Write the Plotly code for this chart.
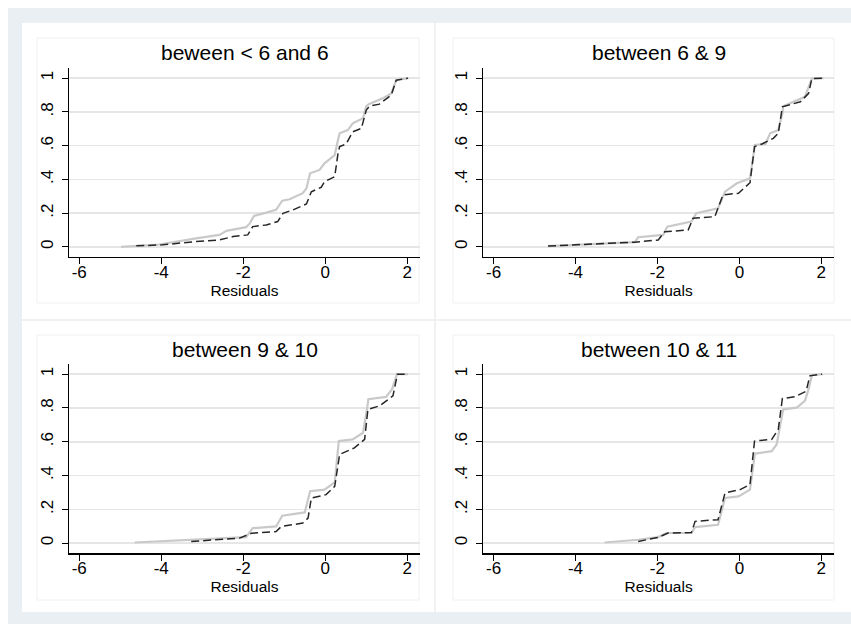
import plotly.graph_objects as go

# ---------------- data ----------------
titles = ["beween < 6 and 6", "between 6 & 9", "between 9 & 10", "between 10 & 11"]
x_tick_vals = [-6, -4, -2, 0, 2]
x_tick_text = ["-6", "-4", "-2", "0", "2"]
y_tick_vals = [0, 0.2, 0.4, 0.6, 0.8, 1]
y_tick_text = ["0", ".2", ".4", ".6", ".8", "1"]
x_title = "Residuals"

# panel 1: gray solid / black dashed
p1_gray_x = [-4.98, -4.05, -3.15, -2.58, -2.41, -1.93, -1.85, -1.74, -1.44, -1.20, -1.05, -0.87, -0.55, -0.46,
             -0.37, -0.14, -0.02, 0.23, 0.31, 0.35, 0.55, 0.67, 0.92, 1.00, 1.06, 1.40, 1.61, 1.73, 2.02]
p1_gray_y = [0.00, 0.014, 0.05, 0.071, 0.095, 0.117, 0.136, 0.183, 0.203, 0.219, 0.274, 0.282, 0.318, 0.347,
             0.436, 0.456, 0.495, 0.544, 0.633, 0.673, 0.692, 0.732, 0.762, 0.834, 0.846, 0.88, 0.909, 0.988, 1.0]
p1_dash_x = [-4.61, -3.96, -3.23, -2.58, -2.25, -1.89, -1.77, -1.44, -1.16, -1.03, -0.79, -0.46, -0.34, -0.10,
             -0.02, 0.23, 0.31, 0.35, 0.51, 0.67, 0.88, 1.00, 1.08, 1.32, 1.61, 1.73, 2.02]
p1_dash_y = [0.006, 0.012, 0.03, 0.041, 0.061, 0.071, 0.12, 0.13, 0.15, 0.199, 0.219, 0.254, 0.327, 0.353,
             0.386, 0.416, 0.554, 0.594, 0.61, 0.682, 0.702, 0.811, 0.834, 0.846, 0.90, 0.988, 1.0]

# panel 2
p2_gray_x = [-4.67, -2.55, -2.47, -1.86, -1.76, -1.17, -1.05, -0.52, -0.35, -0.06, 0.26, 0.38, 0.64, 0.75,
             0.95, 1.05, 1.07, 1.60, 1.77, 2.05]
p2_gray_y = [0.005, 0.028, 0.057, 0.071, 0.12, 0.15, 0.20, 0.229, 0.327, 0.377, 0.406, 0.604, 0.61, 0.673,
             0.692, 0.79, 0.834, 0.889, 0.998, 1.0]
p2_dash_x = [-4.67, -2.55, -1.98, -1.82, -1.25, -1.13, -0.60, -0.40, -0.02, 0.26, 0.37, 0.55, 0.83, 0.95,
             1.05, 1.49, 1.69, 1.77, 2.05]
p2_dash_y = [0.005, 0.028, 0.041, 0.09, 0.10, 0.17, 0.179, 0.308, 0.318, 0.38, 0.594, 0.61, 0.643, 0.673,
             0.83, 0.86, 0.91, 0.998, 1.0]

# panel 3
p3_gray_x = [-4.65, -1.93, -1.77, -1.20, -1.05, -0.50, -0.37, -0.02, 0.23, 0.33, 0.67, 0.92, 1.02, 1.05,
             1.48, 1.63, 1.75, 2.02]
p3_gray_y = [0.004, 0.036, 0.089, 0.099, 0.162, 0.182, 0.307, 0.317, 0.36, 0.604, 0.614, 0.653, 0.796, 0.852,
             0.865, 0.911, 1.0, 1.0]
p3_dash_x = [-3.27, -2.09, -1.80, -1.20, -1.07, -0.55, -0.42, -0.34, 0.02, 0.23, 0.35, 0.71, 0.96, 1.04,
             1.32, 1.65, 1.76, 2.02]
p3_dash_y = [0.01, 0.03, 0.059, 0.069, 0.099, 0.119, 0.148, 0.267, 0.287, 0.336, 0.525, 0.564, 0.614, 0.792,
             0.812, 0.871, 1.0, 1.0]

# panel 4
p4_gray_x = [-3.29, -2.47, -1.98, -1.78, -1.17, -1.08, -0.52, -0.35, -0.02, 0.26, 0.38, 0.79, 0.91, 1.07,
             1.40, 1.60, 1.69, 1.77, 2.02]
p4_gray_y = [0.004, 0.02, 0.036, 0.06, 0.06, 0.095, 0.109, 0.267, 0.277, 0.317, 0.53, 0.544, 0.584, 0.792,
             0.802, 0.842, 0.911, 0.994, 1.0]
p4_dash_x = [-2.47, -1.98, -1.74, -1.17, -1.08, -0.52, -0.35, 0.02, 0.26, 0.37, 0.79, 0.95, 1.05, 1.35,
             1.63, 1.72, 2.02]
p4_dash_y = [0.01, 0.034, 0.06, 0.063, 0.129, 0.139, 0.297, 0.317, 0.347, 0.604, 0.614, 0.673, 0.856, 0.866,
             0.899, 0.99, 1.0]

gray_series = [(p1_gray_x, p1_gray_y), (p2_gray_x, p2_gray_y), (p3_gray_x, p3_gray_y), (p4_gray_x, p4_gray_y)]
dash_series = [(p1_dash_x, p1_dash_y), (p2_dash_x, p2_dash_y), (p3_dash_x, p3_dash_y), (p4_dash_x, p4_dash_y)]

# ---------------- layout geometry (pixels) ----------------
W, H = 851, 624
FONT = "Liberation Sans, Arial, Helvetica, sans-serif"


def px_x(p):
    return p / W


def px_y(p):
    return 1 - p / H


plot_x = [(69, 420), (483.3, 834), (69, 420), (483.3, 834)]
plot_y = [(68, 257), (68, 257), (364, 553.3), (364, 553.3)]
boxes = [(37, 38, 419, 303), (453, 38, 834, 303), (37, 335, 419, 600), (453, 335, 834, 600)]
title_y = [52, 52, 349.5, 349.5]

fig = go.Figure()

for i in range(4):
    sfx = "" if i == 0 else str(i + 1)
    gx, gy = gray_series[i]
    dxs, dys = dash_series[i]
    fig.add_trace(go.Scatter(x=gx, y=gy, mode="lines", xaxis="x" + sfx, yaxis="y" + sfx,
                             line=dict(color="#c9c9c9", width=2.2), showlegend=False, hoverinfo="skip"))
    fig.add_trace(go.Scatter(x=dxs, y=dys, mode="lines", xaxis="x" + sfx, yaxis="y" + sfx,
                             line=dict(color="#262626", width=1.5, dash="8px,4px"), showlegend=False,
                             hoverinfo="skip"))

layout = dict(
    width=W, height=H, autosize=False,
    margin=dict(l=0, r=0, t=0, b=0, pad=0),
    paper_bgcolor="white", plot_bgcolor="rgba(0,0,0,0)",
    font=dict(family=FONT, color="black"),
    shapes=[], annotations=[],
)

for i in range(4):
    sfx = "" if i == 0 else str(i + 1)
    x0, x1 = plot_x[i]
    ytop, ybot = plot_y[i]
    layout["xaxis" + sfx] = dict(
        domain=[px_x(x0), px_x(x1)], anchor="y" + sfx, range=[-6.25, 2.31],
        tickmode="array", tickvals=x_tick_vals, ticktext=x_tick_text,
        showline=True, linecolor="black", linewidth=1.3,
        ticks="outside", ticklen=6, tickwidth=1, tickcolor="black",
        showgrid=False, zeroline=False, ticklabelstandoff=-7,
        tickfont=dict(family=FONT, size=17, color="black"),
        title=dict(text=x_title, font=dict(family=FONT, size=15.5, color="black"), standoff=2),
        fixedrange=True,
    )
    layout["yaxis" + sfx] = dict(
        domain=[px_y(ybot), px_y(ytop)], anchor="x" + sfx, range=[-0.06, 1.06],
        tickmode="array", tickvals=y_tick_vals, ticktext=y_tick_text, tickangle=-90,
        showline=True, linecolor="black", linewidth=1.3,
        ticks="outside", ticklen=6, tickwidth=1, tickcolor="black",
        showgrid=True, gridcolor="#e6e6e6", gridwidth=1.5, zeroline=False, ticklabelstandoff=2,
        tickfont=dict(family=FONT, size=17, color="black"),
        fixedrange=True,
    )
    layout["annotations"].append(dict(
        text=titles[i], xref="paper", yref="paper", x=px_x((x0 + x1) / 2), y=px_y(title_y[i]),
        xanchor="center", yanchor="middle", showarrow=False,
        font=dict(family=FONT, size=21, color="black"),
    ))

shapes = layout["shapes"]
# outer tinted frame and white area
shapes.append(dict(type="rect", xref="paper", yref="paper", x0=px_x(8), x1=1, y0=0, y1=px_y(8),
                   fillcolor="#e9eff2", line=dict(width=0), layer="below"))
shapes.append(dict(type="rect", xref="paper", yref="paper", x0=px_x(22), x1=1, y0=px_y(612), y1=px_y(23),
                   fillcolor="white", line=dict(width=0), layer="below"))
# dividers between cells
shapes.append(dict(type="line", xref="paper", yref="paper", x0=px_x(435), x1=px_x(435), y0=px_y(612),
                   y1=px_y(23), line=dict(color="#ececec", width=1.5), layer="below"))
shapes.append(dict(type="line", xref="paper", yref="paper", x0=px_x(22), x1=1, y0=px_y(320), y1=px_y(320),
                   line=dict(color="#ececec", width=1.5), layer="below"))
# light panel borders
for (bx0, by0, bx1, by1) in boxes:
    shapes.append(dict(type="rect", xref="paper", yref="paper", x0=px_x(bx0), x1=px_x(bx1),
                       y0=px_y(by1), y1=px_y(by0), fillcolor="rgba(0,0,0,0)",
                       line=dict(color="#f0f0f0", width=1), layer="below"))

fig.update_layout(**layout)

fig.write_html("out.html", config={"displayModeBar": False, "staticPlot": True},
               post_script="document.body.style.margin='0';document.body.style.overflow='hidden';")
